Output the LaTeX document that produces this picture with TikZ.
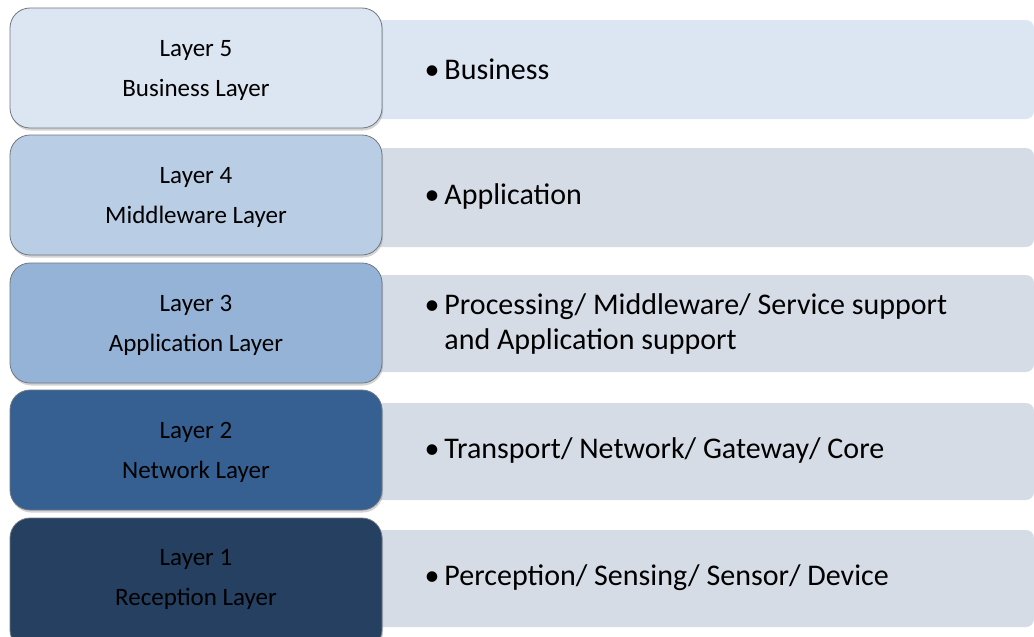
\documentclass[tikz,border=0pt]{standalone}
\usepackage{fontspec}
\setmainfont{Carlito}
\usetikzlibrary{shadows}
\definecolor{cA}{HTML}{DCE6F2}
\definecolor{cB}{HTML}{B9CDE5}
\definecolor{cC}{HTML}{95B3D7}
\definecolor{cD}{HTML}{366092}
\definecolor{cE}{HTML}{254061}
\definecolor{rA}{HTML}{DCE6F2}
\definecolor{rB}{HTML}{D6DCE6}
\definecolor{edge}{HTML}{6F7780}
\tikzset{
  layerbox/.style={draw=edge, line width=0.8pt, rounded corners=20pt,
    drop shadow={opacity=0.35, shadow xshift=1pt, shadow yshift=-2.5pt}},
  descbox/.style={rounded corners=8pt},
  layertext/.style={font=\fontsize{25}{40}\selectfont, align=center, text=black},
  desctext/.style={font=\fontsize{30}{35}\selectfont, anchor=west, align=left, text=black}
}
\begin{document}
\begin{tikzpicture}[x=1pt,y=-1pt]
\useasboundingbox (0,0) rectangle (1034,637);
% right description bands
\fill[rA, descbox] (372,20) rectangle (1034,119);
\fill[rB, descbox] (372,148) rectangle (1034,247);
\fill[rB, descbox] (372,275) rectangle (1034,372);
\fill[rB, descbox] (372,403) rectangle (1034,500);
\fill[rB, descbox] (372,530) rectangle (1034,627);
% left layer boxes
\draw[layerbox, fill=cA] (10,8) rectangle (382,128);
\draw[layerbox, fill=cB] (10,135) rectangle (382,255);
\draw[layerbox, fill=cC] (10,263) rectangle (382,383);
\draw[layerbox, fill=cD] (10,390) rectangle (382,510);
\draw[layerbox, fill=cE] (10,518) rectangle (382,650);
% layer labels
\node[layertext] (l5) at (196,70) {Layer 5\\Business Layer};
\node[layertext] (l4) at (196,197) {Layer 4\\Middleware Layer};
\node[layertext] (l3) at (196,325) {Layer 3\\Application Layer};
\node[layertext] (l2) at (196,452) {Layer 2\\Network Layer};
\node[layertext] (l1) at (196,579) {Layer 1\\Reception Layer};
% descriptions
\node[desctext] (d5) at (421,69) {\textbullet\,Business};
\node[desctext] (d4) at (421,196) {\textbullet\,Application};
\node[desctext] (d3) at (421,324) {\textbullet\,Processing/ Middleware/ Service support\\\phantom{\textbullet\,}and Application support};
\node[desctext] (d2) at (421,450) {\textbullet\,Transport/ Network/ Gateway/ Core};
\node[desctext] (d1) at (421,578) {\textbullet\,Perception/ Sensing/ Sensor/ Device};
\end{tikzpicture}
\end{document}
